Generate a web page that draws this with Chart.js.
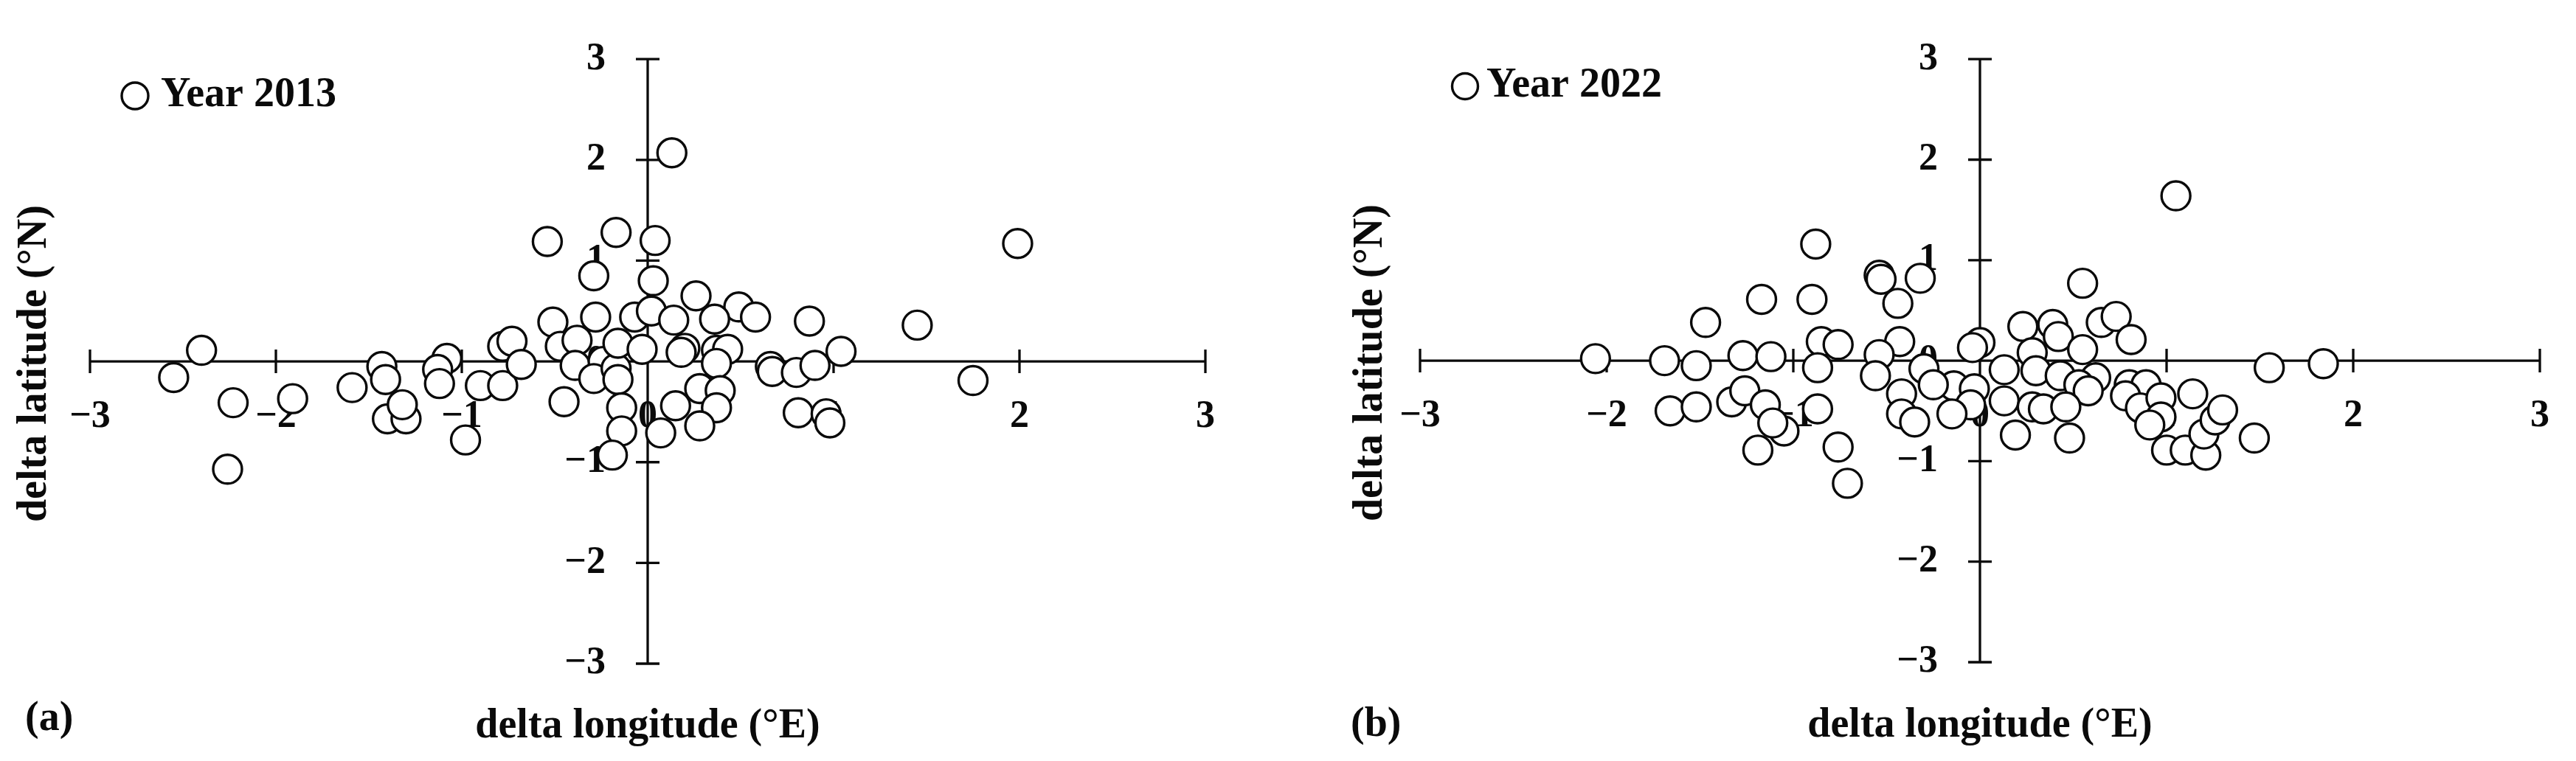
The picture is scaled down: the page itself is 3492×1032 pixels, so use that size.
<!DOCTYPE html>
<html>
<head>
<meta charset="utf-8">
<script src="https://cdn.jsdelivr.net/npm/chart.js@4.4.1/dist/chart.umd.min.js"></script>
<style>
html,body{margin:0;padding:0;background:#fff;}
#wrap{position:relative;width:3492px;height:1032px;overflow:hidden;background:#fff;}
canvas{position:absolute;top:0;}
</style>
</head>
<body>
<div id="wrap">
<canvas id="ca" width="1746" height="1032" style="left:0px"></canvas>
<canvas id="cb" width="1746" height="1032" style="left:1746px"></canvas>
</div>
<script>
// ---------- data ----------
const tickValues = [-3, -2, -1, 0, 1, 2, 3];

const lon2013 = [-2.55, -2.40, -2.23, -2.26, -1.91, -1.59, -1.43, -1.41, -1.40, -1.30,
  -1.32, -1.08, -1.13, -1.12, -0.98, -0.90, -0.78, -0.78, -0.73, -0.68,
  -0.51, -0.47, -0.38, -0.39, -0.45, -0.28, -0.29, -0.54, -0.17, -0.24,
  -0.29, -0.17, -0.16, -0.07, -0.16, -0.03, -0.14, -0.14, -0.19, 0.13,
  0.04, 0.03, 0.02, 0.26, 0.49, 0.58, 0.36, 0.14, 0.20, 0.18,
  0.37, 0.43, 0.37, 0.87, 1.45, 1.99, 1.75, 0.66, 0.67, 0.80,
  0.90, 1.04, 0.81, 0.96, 0.98, 0.28, 0.39, 0.15, 0.37, 0.28, 0.07];
const lat2013 = [-0.16, 0.11, -0.41, -1.07, -0.37, -0.26, -0.05, -0.18, -0.57, -0.57,
  -0.43, 0.03, -0.08, -0.22, -0.78, -0.24, -0.24, 0.15, 0.20, -0.03,
  0.39, 0.15, 0.21, -0.04, -0.40, 0.44, 0.85, 1.19, 1.28, 0.00,
  -0.17, -0.07, -0.18, 0.44, 0.18, 0.12, -0.46, -0.69, -0.93, 2.07,
  1.20, 0.80, 0.50, 0.65, 0.54, 0.44, 0.42, 0.41, 0.13, 0.09,
  0.11, 0.12, -0.02, 0.40, 0.36, 1.17, -0.19, -0.05, -0.10, -0.11,
  -0.04, 0.10, -0.51, -0.52, -0.61, -0.27, -0.29, -0.44, -0.46, -0.64, -0.71];

const lon2022 = [-2.06, -1.69, -1.52, -1.47, -1.27, -1.12, -1.17, -0.88, -0.90, -0.85,
  -0.76, -0.87, -0.54, -0.53, -0.44, -0.32, -0.43, -0.54, -0.56, -0.42,
  -0.42, -0.35, -0.30, -1.66, -1.52, -1.33, -1.26, -1.15, -0.87, -1.05,
  -1.11, -1.19, -0.76, -0.71,
  1.05, 0.55, 0.23, 0.39, 0.42, 0.65, 0.73, 0.81, 0.00, -0.04,
  0.28, 0.55, 0.13, 0.30, 0.43, 0.62, 0.53, 0.58, -0.14, -0.25,
  -0.03, -0.05, -0.15, 0.13, 0.28, 0.34, 0.46, 0.19, 0.48, 0.80,
  0.89, 0.78, 0.86, 0.97, 0.97, 0.91, 1.00, 1.10, 1.21, 1.20,
  1.26, 1.30, 1.14, 1.47, 1.55, 1.84];
const lat2022 = [0.02, 0.00, -0.05, 0.38, 0.05, 0.04, 0.61, 1.16, 0.61, 0.19,
  0.16, -0.07, 0.85, 0.81, 0.57, 0.82, 0.19, 0.06, -0.15, -0.33,
  -0.53, -0.61, -0.08, -0.50, -0.46, -0.41, -0.30, -0.44, -0.48, -0.70,
  -0.62, -0.89, -0.86, -1.22,
  1.64, 0.77, 0.34, 0.36, 0.24, 0.38, 0.44, 0.21, 0.18, 0.13,
  0.08, 0.11, -0.09, -0.10, -0.15, -0.17, -0.24, -0.30, -0.25, -0.24,
  -0.28, -0.44, -0.53, -0.40, -0.46, -0.48, -0.46, -0.74, -0.77, -0.24,
  -0.24, -0.35, -0.47, -0.37, -0.56, -0.64, -0.89, -0.89, -0.94, -0.73,
  -0.59, -0.49, -0.33, -0.77, -0.07, -0.03];

const seriesLabels = ['Year 2013', 'Year 2022'];
const panelLabels = ['(a)', '(b)'];
const xTitle = 'delta longitude (\u00B0E)';
const yTitle = 'delta latitude (\u00B0N)';

// ---------- styling / layout ----------
const INK = '#0a0a0a';
const FONT = '"Liberation Serif", "Times New Roman", serif';

function fmtTick(v) { return v < 0 ? '\u2212' + Math.abs(v) : String(v); }

function decorPlugin(L) {
  return {
    id: 'decor',
    beforeDatasetsDraw(chart) {
      const {ctx, chartArea: ca, scales: {x, y}} = chart;
      const x0 = x.getPixelForValue(0), y0 = y.getPixelForValue(0);
      ctx.save();
      ctx.strokeStyle = INK;
      ctx.lineWidth = 3.3;
      ctx.beginPath();
      ctx.moveTo(ca.left, y0); ctx.lineTo(ca.right, y0);
      ctx.moveTo(x0, ca.top); ctx.lineTo(x0, ca.bottom);
      x.ticks.forEach(t => {
        const px = x.getPixelForValue(t.value);
        ctx.moveTo(px, y0 - 16); ctx.lineTo(px, y0 + 16);
      });
      y.ticks.forEach(t => {
        const py = y.getPixelForValue(t.value);
        ctx.moveTo(x0 - 16, py); ctx.lineTo(x0 + 16, py);
      });
      ctx.stroke();
      ctx.restore();
    },
    afterDraw(chart) {
      const {ctx, scales: {x, y}} = chart;
      const x0 = x.getPixelForValue(0), y0 = y.getPixelForValue(0);
      const ds = chart.data.datasets[0];
      ctx.save();
      // legend entry
      ctx.beginPath();
      ctx.arc(L.legX, L.legY, L.legR, 0, Math.PI * 2);
      ctx.fillStyle = '#fff';
      ctx.fill();
      ctx.lineWidth = ds.borderWidth;
      ctx.strokeStyle = ds.borderColor;
      ctx.stroke();
      ctx.fillStyle = INK;
      ctx.font = 'bold 56px ' + FONT;
      ctx.textAlign = 'left';
      ctx.textBaseline = 'middle';
      ctx.fillText(ds.label, L.legTextX, L.legY);
      // panel label
      ctx.fillText(L.panel, L.panelX, y0 + L.panelDY);
      // x title
      ctx.textAlign = 'center';
      ctx.fillText(xTitle, x0, y0 + 495);
      // y title
      ctx.translate(L.yTitleX, y0 + 3);
      ctx.rotate(-Math.PI / 2);
      ctx.fillText(yTitle, 0, 0);
      ctx.restore();
    }
  };
}

function makeChart(canvasId, lon, lat, label, L) {
  const points = lon.map((v, i) => ({x: v, y: lat[i]}));
  const tickFont = {family: FONT, weight: 'bold', size: 52};
  return new Chart(document.getElementById(canvasId), {
    type: 'scatter',
    data: {
      datasets: [{
        label: label,
        data: points,
        pointStyle: 'circle',
        pointRadius: 19.5,
        pointHoverRadius: 19.5,
        borderWidth: 3.4,
        borderColor: INK,
        backgroundColor: '#ffffff'
      }]
    },
    options: {
      responsive: false,
      animation: false,
      events: [],
      layout: {padding: L.pad},
      plugins: {legend: {display: false}, tooltip: {enabled: false}},
      scales: {
        x: {
          type: 'linear', min: -3, max: 3, position: 'center', z: 1,
          grid: {display: false}, border: {display: false},
          afterBuildTicks: s => { s.ticks = tickValues.map(v => ({value: v})); },
          ticks: {font: tickFont, color: INK, padding: 36, maxRotation: 0, autoSkip: false, callback: fmtTick}
        },
        y: {
          type: 'linear', min: -3, max: 3, position: 'center', z: 1,
          grid: {display: false}, border: {display: false},
          afterBuildTicks: s => { s.ticks = tickValues.map(v => ({value: v})); },
          ticks: {font: tickFont, color: INK, padding: 49, autoSkip: false, callback: fmtTick}
        }
      }
    },
    plugins: [decorPlugin(L)]
  });
}

makeChart('ca', lon2013, lat2013, seriesLabels[0], {
  pad: {left: 122, right: 112, top: 70, bottom: 132},
  legX: 183, legY: 130, legR: 18, legTextX: 218,
  panel: panelLabels[0], panelX: 34, panelDY: 485,
  yTitleX: 48
});
makeChart('cb', lon2022, lat2022, seriesLabels[1], {
  pad: {left: 179, right: 35, top: 50, bottom: 134},
  legX: 240, legY: 117, legR: 17.5, legTextX: 269,
  panel: panelLabels[1], panelX: 85, panelDY: 494,
  yTitleX: 113
});
</script>
</body>
</html>
